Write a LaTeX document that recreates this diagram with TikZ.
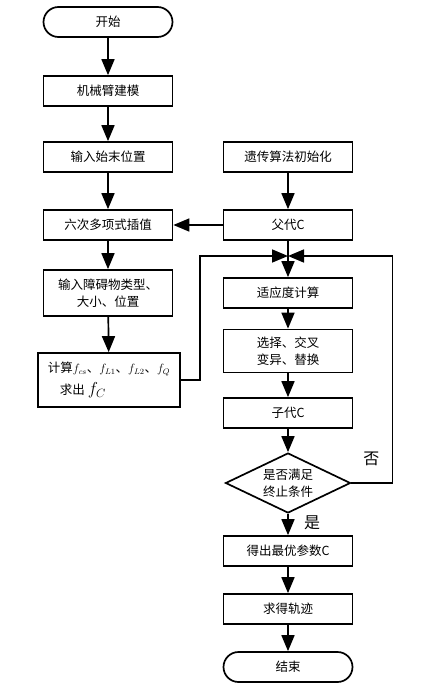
\documentclass[tikz,border=0pt]{standalone}
\usepackage{amsmath}
\usepackage{fontspec}
\newfontfamily\cjk{Noto Sans CJK SC}
\usetikzlibrary{calc,shapes.geometric,arrows.meta}
\tikzset{
    box/.style={draw,line width=1.7pt,minimum width=129pt,minimum height=30pt,inner sep=2pt,align=center,font=\cjk\fontsize{12.5}{17}\selectfont},
    term/.style={box,rounded corners=15pt},
    decide/.style={box,diamond,aspect=2,minimum width=125pt,minimum height=60pt,inner sep=0pt},
    flow/.style={line width=1.7pt,-{Triangle[length=16pt,width=13pt]}},
    line/.style={line width=1.7pt},
    tag/.style={font=\cjk\fontsize{16}{18}\selectfont}
}
\begin{document}
\begin{tikzpicture}[x=1pt,y=-1pt]
    \useasboundingbox (0,0) rectangle (430,696);
    \draw (108,22) node[term] (start) {开始};
    \draw (108,91) node[box] (model) {机械臂建模};
    \draw (108,157) node[box] (pos) {输入始末位置};
    \draw (108,225) node[box] (poly) {六次多项式插值};
    \draw (108,293) node[box,minimum height=46pt] (obst) {输入障碍物类型、\\大小、位置};
    \draw (109,380) node[box,minimum width=142pt,minimum height=54pt,align=left,inner sep=1pt,font=\cjk\fontsize{12.5}{22}\selectfont] (cost) {计算{\large$f_{cs}$}、{\large$f_{L1}$}、{\large$f_{L2}$}、{\large$f_Q$}\\\hspace{12pt}求出 {\LARGE$f_C$}};
    \draw (288,157) node[box] (init) {遗传算法初始化};
    \draw (288,225) node[box] (parent) {父代C};
    \draw (288,256) coordinate (m);
    \draw (288,293) node[box] (fit) {适应度计算};
    \draw (288,351) node[box,minimum height=43pt] (ops) {选择、交叉\\变异、替换};
    \draw (288,413) node[box] (child) {子代C};
    \draw (288,483) node[decide] (stop) {是否满足\\终止条件};
    \draw (288,551) node[box] (best) {得出最优参数C};
    \draw (288,609) node[box] (traj) {求得轨迹};
    \draw (288,667) node[term] (end) {结束};
    \draw[flow] (start) -- (model);
    \draw[flow] (model) -- (pos);
    \draw[flow] (pos) -- (poly);
    \draw[flow] (poly) -- (obst);
    \draw[flow] (obst) -- (cost);
    \draw[flow] (init) -- (parent);
    \draw[flow] (parent) -- (poly);
    \draw[line] (parent) -- (m);
    \draw[flow] (m) -- (fit);
    \draw[flow] (fit) -- (ops);
    \draw[flow] (ops) -- (child);
    \draw[flow] (child) -- (stop);
    \draw[flow] (stop) -- (best) node[tag,anchor=west,pos=.4,xshift=12pt] (yes) {是};
    \draw[flow] (best) -- (traj);
    \draw[flow] (traj) -- (end);
    \draw[flow] (cost.east) -| ($(cost.east)+(19,0)$) |- (m);
    \draw[flow] (stop.east) -| ($(stop.east)+(41,0)$) |- (m);
    \draw ($(stop.east)+(20,-24)$) node[tag] (no) {否};
\end{tikzpicture}
\end{document}
